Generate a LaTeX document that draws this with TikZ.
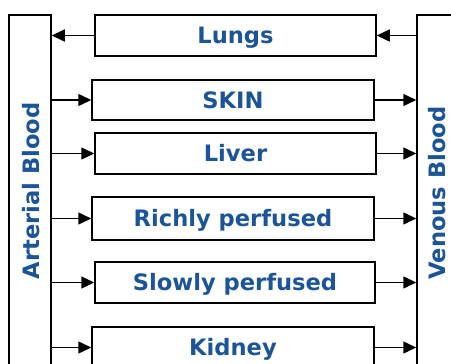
\documentclass[tikz,border=0pt]{standalone}
\usepackage{fontspec}
\setmainfont{DejaVu Sans}
\usetikzlibrary{arrows.meta,positioning}
\definecolor{organblue}{HTML}{1C5597}

\begin{document}
\begin{tikzpicture}[
    x=1pt,y=-1pt,>={Triangle[length=13pt,width=12pt]},
    line width=1.5pt,
    organ/.style={draw,minimum width=281pt,minimum height=41pt,inner sep=0pt,
      text height=16.5pt,text depth=0pt,
      text=organblue,font=\fontsize{22.6}{24}\selectfont\bfseries},
    column/.style={draw,minimum width=42pt,minimum height=385pt,inner sep=0pt},
    collabel/.style={rotate=90,text height=16.5pt,text depth=0pt,
      text=organblue,font=\fontsize{22.6}{24}\selectfont\bfseries}]
  \useasboundingbox (0,0) rectangle (451,364);
  \begin{scope}
    \clip (0,0) rectangle (451,364);
    % blood pools on both sides
    \node[column] (art) at (30,207.5) {};
    \node[column] (ven) at (438,207.5) {};
    \node[collabel] (artlbl) at (31,191) {Arterial Blood};
    \node[collabel] (venlbl) at (437,193) {Venous Blood};
    % organs
    \node[organ] (lungs) at (235.5,35.5) {Lungs};
    \node[organ,minimum width=282pt,minimum height=40pt] (skin) at (233,100) {SKIN};
    \node[organ] (liver) at (235.5,153.5) {Liver};
    \node[organ,minimum width=282pt,minimum height=43pt] (rich) at (233,218.5) {Richly perfused};
    \node[organ,minimum width=280pt] (slow) at (235,282.5) {Slowly perfused};
    \node[organ,minimum width=282pt] (kid) at (233,347.5) {Kidney};
    % lungs feed back to arterial side
    \draw[->] (ven.west |- lungs) -- (lungs.east);
    \draw[->] (lungs.west) -- (art.east |- lungs);
    \foreach \o in {skin,liver,rich,slow,kid} {
      \draw[->] (art.east |- \o) -- (\o.west);
      \draw[->] (\o.east) -- (ven.west |- \o);
    }
  \end{scope}
\end{tikzpicture}
\end{document}
